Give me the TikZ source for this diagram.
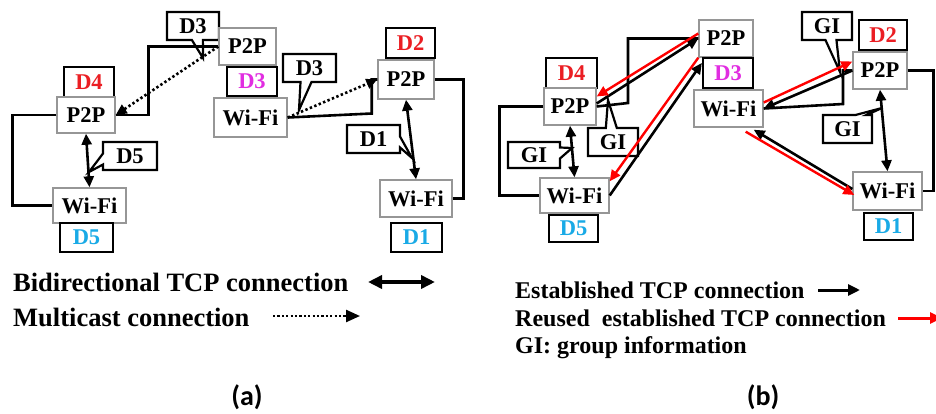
\documentclass[tikz,border=0pt]{standalone}
\usepackage{fontspec}
\setmainfont{Liberation Serif}
\newfontfamily\capfont{Carlito}
\usetikzlibrary{arrows.meta,shapes.callouts,calc}
\definecolor{devred}{RGB}{235,30,35}
\definecolor{devmag}{RGB}{225,45,225}
\definecolor{devcyan}{RGB}{25,170,230}
\definecolor{boxgray}{RGB}{150,150,150}
\begin{document}
\begin{tikzpicture}[x=1pt,y=-1pt,
  dev/.style={draw=boxgray, line width=1.4pt, fill=white, inner sep=0pt,
    font=\fontsize{22.5}{25}\selectfont\bfseries},
  tag/.style={draw=black, line width=2.2pt, fill=white, inner sep=0pt,
    font=\fontsize{22.5}{25}\selectfont\bfseries},
  note/.style={rectangle callout, draw=black, line width=2.2pt, fill=white, inner sep=0pt,
    callout pointer width=11pt, font=\fontsize{22.5}{25}\selectfont\bfseries},
  link/.style={line width=2.6pt, draw=black},
  relink/.style={line width=2.4pt, draw=red},
  onetip/.style={-{Triangle[length=11pt,width=10pt]}},
  twotip/.style={{Triangle[length=11pt,width=10pt]}-{Triangle[length=11pt,width=10pt]}},
  mcast/.style={line width=2.6pt, dash pattern=on 2.4pt off 2.4pt, -{Triangle[length=11pt,width=10pt]}},
  legtext/.style={anchor=west, inner sep=0pt, font=\bfseries},
  subcap/.style={inner sep=0pt, font=\capfont\fontsize{28}{30}\selectfont\bfseries}
]
\useasboundingbox (0,0) rectangle (936,414);

% ---------------- panel (a) ----------------
% callouts
\node[note, minimum width=52pt, minimum height=28pt, callout absolute pointer={(203,58)}] (ca3) at (193,26) {D3};
\node[note, minimum width=53pt, minimum height=28pt, callout absolute pointer={(299,110)}] (cb3) at (309.5,68) {D3};
\node[note, minimum width=53pt, minimum height=28pt, callout absolute pointer={(412,158)}] (ca1) at (373.5,139) {D1};
\node[note, minimum width=54pt, minimum height=28pt, callout absolute pointer={(89,172)}] (ca5) at (130,156) {D5};

% devices
\node[dev, minimum width=57pt, minimum height=37pt] (a3p) at (247.5,46.5) {P2P};
\node[tag, minimum width=50pt, minimum height=29pt, text=devmag] (a3l) at (252,81.5) {D3};
\node[dev, minimum width=73pt, minimum height=39pt] (a3w) at (250.5,117.5) {Wi-Fi};
\node[tag, minimum width=49pt, minimum height=30pt, text=devred] (a2l) at (410.5,43) {D2};
\node[dev, minimum width=56pt, minimum height=39pt] (a2p) at (406,79.5) {P2P};
\node[dev, minimum width=72pt, minimum height=37pt] (a1w) at (416,198.5) {Wi-Fi};
\node[tag, minimum width=51pt, minimum height=29pt, text=devcyan] (a1l) at (416.5,237.5) {D1};
\node[tag, minimum width=50pt, minimum height=30pt, text=devred] (a4l) at (89,82) {D4};
\node[dev, minimum width=58pt, minimum height=36pt] (a4p) at (86,115) {P2P};
\node[dev, minimum width=73pt, minimum height=35pt] (a5w) at (89.5,205.5) {Wi-Fi};
\node[tag, minimum width=53pt, minimum height=29pt, text=devcyan] (a5l) at (86.5,237.5) {D5};

% connections
\draw[link] (a4p.west) -- ++(-44,0) |- (a5w.west);
\draw[link, twotip] (a4p.south) -- (a5w.north);
\draw[link] (a4p.east) -- ++(33,0) |- (a3p.west);
\draw[mcast] (a3p.west) -- (a4p.east);
\draw[link] (a3w.east) -- ++(84,-4) |- (a2p.west);
\draw[mcast] (a3w.east) -- (a2p.west);
\draw[link] (a2p.east) -- ++(29,0) |- (a1w.east);
\draw[link, twotip] (a2p.south) -- (a1w.north);

% legend
\node[legtext, font=\fontsize{26.5}{29}\selectfont\bfseries] (la1) at (13,282) {Bidirectional TCP connection};
\coordinate (la1s) at (368,282);
\coordinate (la1e) at (435,282);
\draw[line width=3.5pt, {Triangle[length=14pt,width=13pt]}-{Triangle[length=14pt,width=13pt]}] (la1s) -- (la1e);
\node[legtext, font=\fontsize{26.5}{29}\selectfont\bfseries] (la2) at (13,317) {Multicast connection};
\coordinate (la2s) at (273,316);
\coordinate (la2e) at (360,316);
\draw[line width=2.4pt, dash pattern=on 2.2pt off 2.2pt, -{Triangle[length=14pt,width=12pt]}] (la2s) -- (la2e);
\node[subcap] (capa) at (247,397) {(a)};

% ---------------- panel (b) ----------------
\node[note, minimum width=50pt, minimum height=28pt, callout absolute pointer={(840,72)}] (g1) at (827,26) {GI};
\node[note, minimum width=49pt, minimum height=28pt, callout absolute pointer={(882,108)}] (g2) at (847.5,129) {GI};
\node[note, minimum width=50pt, minimum height=28pt, callout absolute pointer={(608,100)}] (g3) at (613,142) {GI};
\node[note, minimum width=52pt, minimum height=26pt, callout absolute pointer={(572,148)}] (g4) at (534,155) {GI};

\node[dev, minimum width=54pt, minimum height=37pt] (b3p) at (726,38.5) {P2P};
\node[tag, minimum width=50pt, minimum height=30pt, text=devmag] (b3l) at (728,73) {D3};
\node[dev, minimum width=69pt, minimum height=37pt] (b3w) at (728.5,108.5) {Wi-Fi};
\node[tag, minimum width=48pt, minimum height=30pt, text=devred] (b2l) at (883,35) {D2};
\node[dev, minimum width=54pt, minimum height=37pt] (b2p) at (880,70.5) {P2P};
\node[dev, minimum width=69pt, minimum height=38pt] (b1w) at (887.5,191) {Wi-Fi};
\node[tag, minimum width=49pt, minimum height=27pt, text=devcyan] (b1l) at (888.5,226.5) {D1};
\node[tag, minimum width=51pt, minimum height=30pt, text=devred] (b4l) at (571.5,73) {D4};
\node[dev, minimum width=52pt, minimum height=37pt] (b4p) at (570,106.5) {P2P};
\node[dev, minimum width=69pt, minimum height=35pt] (b5w) at (574.5,195.5) {Wi-Fi};
\node[tag, minimum width=49pt, minimum height=27pt, text=devcyan] (b5l) at (573.5,228.5) {D5};

% frames of the groups
\draw[link] (b4p.west) -- ++(-44,0) |- (b5w.west);
\draw[link, twotip] (b4p.south) -- (b5w.north);
\draw[link] (b4p.east) -- (628,103) |- (b3p.west);
\draw[link] (b3w.east) -- (843,104) |- (b2p.west);
\draw[link] (b2p.east) -- ++(26,0) |- (b1w.east);
\draw[link, twotip] (b2p.south) -- (b1w.north);

% established and reused TCP connections
\draw[link, onetip] ([yshift=3pt]b4p.east) -- (b3p.west);
\draw[relink, onetip] ([yshift=5pt]b3p.west) -- ([yshift=10pt]b4p.east);
\draw[link, onetip] (b5w.east) -- ($(b3l.north west)+(0,6)$);
\draw[relink, onetip] (b3p.south west) -- ($(b5w.north east)+(0,4)$);
\draw[link, onetip] (b2p.west) -- (b3w.east);
\draw[relink, onetip] ([yshift=6pt]b3w.east) -- ([yshift=9pt]b2p.west);
\draw[link, onetip] ($(b1w.west)+(0,-2)$) -- ($(b3w.south east)+(-10,2)$);
\draw[relink, onetip] ($(b3w.south east)+(-18,4)$) -- ($(b1w.west)+(2,4)$);

% legend
\node[legtext, font=\fontsize{24}{27}\selectfont\bfseries] (lb1) at (515,290) {Established TCP connection};
\coordinate (lb1s) at (818,290);
\coordinate (lb1e) at (860,290);
\draw[line width=3pt, -{Triangle[length=12pt,width=11pt]}] (lb1s) -- (lb1e);
\node[legtext, font=\fontsize{24}{27}\selectfont\bfseries] (lb2) at (515,318) {Reused\ \ established TCP connection};
\coordinate (lb2s) at (898,318);
\coordinate (lb2e) at (942,318);
\draw[line width=3pt, red, -{Triangle[length=12pt,width=11pt]}] (lb2s) -- (lb2e);
\node[legtext, font=\fontsize{24}{27}\selectfont\bfseries] (lb3) at (515,348) {GI: group information};
\node[subcap] (capb) at (763,397) {(b)};
\end{tikzpicture}
\end{document}
